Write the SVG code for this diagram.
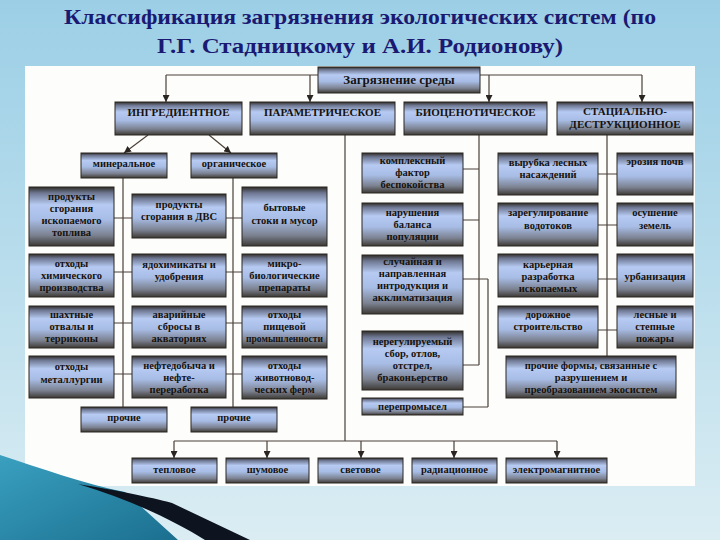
<svg xmlns="http://www.w3.org/2000/svg" width="720" height="540" viewBox="0 0 720 540">
<defs>
<linearGradient id="bg" x1="0" y1="0" x2="0" y2="1">
<stop offset="0" stop-color="#9ccfe6"/>
<stop offset="0.5" stop-color="#b9ddec"/>
<stop offset="1" stop-color="#dbedf3"/>
</linearGradient>
<linearGradient id="box" x1="0" y1="0" x2="0" y2="1">
<stop offset="0" stop-color="#2f2b27"/>
<stop offset="0.1" stop-color="#6d7690"/>
<stop offset="0.3" stop-color="#b6caf2"/>
<stop offset="0.55" stop-color="#a8bde6"/>
<stop offset="0.82" stop-color="#7b8190"/>
<stop offset="1" stop-color="#3d3934"/>
</linearGradient>
<linearGradient id="teal" x1="0" y1="0" x2="1" y2="1">
<stop offset="0" stop-color="#3aa0c0"/>
<stop offset="1" stop-color="#1b6f8f"/>
</linearGradient>
<marker id="ah" viewBox="0 0 8 8" refX="8" refY="4" markerWidth="7" markerHeight="7" markerUnits="userSpaceOnUse" orient="auto">
<path d="M0,0 L8,4 L0,8 z" fill="#2a2520"/>
</marker>
</defs>
<style>
.b{fill:url(#box);stroke:#2b2620;stroke-width:1}
.t{font-family:"Liberation Serif","DejaVu Serif",serif;font-weight:bold;font-size:10.5px;fill:#15120f;text-anchor:middle}
.h{font-size:11px}
.sm{font-size:9.5px}
.ln{fill:none;stroke:#4a4038;stroke-width:1.2}
.ar{marker-end:url(#ah)}
.title{font-family:"Liberation Serif","DejaVu Serif",serif;font-weight:bold;font-size:21px;fill:#1a1a72;text-anchor:middle}
</style>
<rect x="0" y="0" width="720" height="540" fill="url(#bg)"/>
<text class="title" x="360" y="24" textLength="592" lengthAdjust="spacingAndGlyphs">Классификация загрязнения экологических систем (по</text>
<text class="title" x="360" y="53" textLength="406" lengthAdjust="spacingAndGlyphs">Г.Г. Стадницкому и А.И. Родионову)</text>
<rect x="25" y="66" width="670" height="420" fill="#fdfdfb"/>
<path d="M0,455 C40,468 85,484 125,492 L178,540 L0,540 Z" fill="url(#teal)"/>
<path d="M78,484 C115,490 150,497 172,503 L250,540 L205,540 C170,518 125,498 78,484 Z" fill="#0d1420"/>

<g id="connectors">
<path class="ln" d="M166,75 H642"/>
<path class="ln ar" d="M166,75 V102"/>
<path class="ln ar" d="M310,75 V102"/>
<path class="ln ar" d="M489,75 V102"/>
<path class="ln ar" d="M642,75 V102"/>
<path class="ln ar" d="M148,135 L124,153"/>
<path class="ln ar" d="M209,135 L231,153"/>
<path class="ln" d="M123,178 V407"/>
<path class="ln" d="M233,178 V407"/>
<path class="ln" d="M114,218 H132 M114,272 H132 M114,323 H132 M114,374 H132"/>
<path class="ln" d="M226,218 H242 M226,272 H242 M226,323 H242 M226,374 H242"/>
<path class="ln" d="M345,135 V441 M174,441 H557"/>
<path class="ln ar" d="M174,441 V458"/>
<path class="ln ar" d="M267,441 V458"/>
<path class="ln ar" d="M361,441 V458"/>
<path class="ln ar" d="M454,441 V458"/>
<path class="ln ar" d="M557,441 V458"/>
<path class="ln" d="M479,135 V365 M463,169 H479 M463,220 H479 M463,279 H488 M463,365 H479 M488,279 V407 M463,407 H488"/>
<path class="ln" d="M607,135 V356 M598,174 H617 M598,225 H617 M598,279 H617 M598,330 H617"/>
</g>

<g id="n-root"><rect class="b" x="318" y="67" width="162" height="26"/><text class="t" x="399" y="84" style="font-size:13px">Загрязнение среды</text></g>

<g id="n-ingr"><rect class="b" x="115" y="102" width="127" height="33"/><text class="t h" x="178.5" y="116">ИНГРЕДИЕНТНОЕ</text></g>
<g id="n-param"><rect class="b" x="250" y="102" width="145" height="33"/><text class="t h" x="322.5" y="116">ПАРАМЕТРИЧЕСКОЕ</text></g>
<g id="n-bio"><rect class="b" x="404" y="102" width="143" height="33"/><text class="t h" x="475.5" y="116">БИОЦЕНОТИЧЕСКОЕ</text></g>
<g id="n-stac"><rect class="b" x="557" y="102" width="136" height="33"/><text class="t h" x="625" y="115">СТАЦИАЛЬНО-<tspan x="625" y="128">ДЕСТРУКЦИОННОЕ</tspan></text></g>

<g id="n-min"><rect class="b" x="81" y="153" width="86" height="25"/><text class="t" x="124" y="167">минеральное</text></g>
<g id="n-org"><rect class="b" x="191" y="153" width="86" height="25"/><text class="t" x="234" y="167">органическое</text></g>

<g id="n-l1"><rect class="b" x="29" y="187" width="85" height="59"/><text class="t" x="71.5" y="200">продукты<tspan x="71.5" y="212">сгорания</tspan><tspan x="71.5" y="224">ископаемого</tspan><tspan x="71.5" y="236">топлива</tspan></text></g>
<g id="n-l2"><rect class="b" x="29" y="254" width="85" height="43"/><text class="t" x="71.5" y="267">отходы<tspan x="71.5" y="279">химического</tspan><tspan x="71.5" y="291">производства</tspan></text></g>
<g id="n-l3"><rect class="b" x="29" y="306" width="85" height="42"/><text class="t" x="71.5" y="318">шахтные<tspan x="71.5" y="330">отвалы и</tspan><tspan x="71.5" y="342">терриконы</tspan></text></g>
<g id="n-l4"><rect class="b" x="29" y="356" width="85" height="42"/><text class="t" x="71.5" y="370">отходы<tspan x="71.5" y="383">металлургии</tspan></text></g>

<g id="n-m1"><rect class="b" x="132" y="194" width="94" height="44"/><text class="t" x="179" y="208">продукты<tspan x="179" y="220">сгорания в ДВС</tspan></text></g>
<g id="n-m2"><rect class="b" x="132" y="254" width="94" height="43"/><text class="t" x="179" y="268">ядохимикаты и<tspan x="179" y="280">удобрения</tspan></text></g>
<g id="n-m3"><rect class="b" x="132" y="306" width="94" height="42"/><text class="t" x="179" y="318">аварийные<tspan x="179" y="330">сбросы в</tspan><tspan x="179" y="342">акваториях</tspan></text></g>
<g id="n-m4"><rect class="b" x="132" y="356" width="94" height="42"/><text class="t" x="179" y="369">нефтедобыча и<tspan x="179" y="381">нефте-</tspan><tspan x="179" y="393">переработка</tspan></text></g>

<g id="n-r1"><rect class="b" x="242" y="187" width="85" height="59"/><text class="t" x="284.5" y="211">бытовые<tspan x="284.5" y="224">стоки и мусор</tspan></text></g>
<g id="n-r2"><rect class="b" x="242" y="254" width="85" height="43"/><text class="t" x="284.5" y="267">микро-<tspan x="284.5" y="279">биологические</tspan><tspan x="284.5" y="291">препараты</tspan></text></g>
<g id="n-r3"><rect class="b" x="242" y="306" width="85" height="42"/><text class="t" x="284.5" y="318">отходы<tspan x="284.5" y="330">пищевой</tspan><tspan class="sm" x="284.5" y="342">промышленности</tspan></text></g>
<g id="n-r4"><rect class="b" x="242" y="356" width="85" height="43"/><text class="t" x="284.5" y="369">отходы<tspan x="284.5" y="381">животновод-</tspan><tspan x="284.5" y="393">ческих ферм</tspan></text></g>

<g id="n-pr1"><rect class="b" x="81" y="407" width="86" height="25"/><text class="t" x="124" y="421">прочие</text></g>
<g id="n-pr2"><rect class="b" x="191" y="407" width="86" height="25"/><text class="t" x="234" y="421">прочие</text></g>

<g id="n-b1"><rect class="b" x="362" y="153" width="101" height="40"/><text class="t" x="412.5" y="164">комплексный<tspan x="412.5" y="176">фактор</tspan><tspan x="412.5" y="188">беспокойства</tspan></text></g>
<g id="n-b2"><rect class="b" x="362" y="203" width="101" height="43"/><text class="t" x="412.5" y="216">нарушения<tspan x="412.5" y="228">баланса</tspan><tspan x="412.5" y="240">популяции</tspan></text></g>
<g id="n-b3"><rect class="b" x="362" y="255" width="101" height="59"/><text class="t" x="412.5" y="265">случайная и<tspan x="412.5" y="277">направленная</tspan><tspan x="412.5" y="289">интродукция и</tspan><tspan x="412.5" y="301">акклиматизация</tspan></text></g>
<g id="n-b4"><rect class="b" x="362" y="331" width="101" height="59"/><text class="t" x="412.5" y="345">нерегулируемый<tspan x="412.5" y="357">сбор, отлов,</tspan><tspan x="412.5" y="369">отстрел,</tspan><tspan x="412.5" y="381">браконьерство</tspan></text></g>
<g id="n-b5"><rect class="b" x="362" y="398" width="101" height="17"/><text class="t" x="412.5" y="410">перепромысел</text></g>

<g id="n-s1"><rect class="b" x="498" y="153" width="100" height="42"/><text class="t" x="548" y="166">вырубка лесных<tspan x="548" y="178">насаждений</tspan></text></g>
<g id="n-s2"><rect class="b" x="617" y="153" width="76" height="42"/><text class="t" x="655" y="165">эрозия почв</text></g>
<g id="n-s3"><rect class="b" x="498" y="203" width="100" height="43"/><text class="t" x="548" y="216">зарегулирование<tspan x="548" y="229">водотоков</tspan></text></g>
<g id="n-s4"><rect class="b" x="617" y="203" width="76" height="43"/><text class="t" x="655" y="216">осушение<tspan x="655" y="229">земель</tspan></text></g>
<g id="n-s5"><rect class="b" x="498" y="254" width="100" height="43"/><text class="t" x="548" y="268">карьерная<tspan x="548" y="280">разработка</tspan><tspan x="548" y="292">ископаемых</tspan></text></g>
<g id="n-s6"><rect class="b" x="617" y="254" width="76" height="43"/><text class="t" x="655" y="280">урбанизация</text></g>
<g id="n-s7"><rect class="b" x="498" y="306" width="100" height="42"/><text class="t" x="548" y="318">дорожное<tspan x="548" y="330">строительство</tspan></text></g>
<g id="n-s8"><rect class="b" x="617" y="306" width="76" height="42"/><text class="t" x="655" y="318">лесные и<tspan x="655" y="330">степные</tspan><tspan x="655" y="342">пожары</tspan></text></g>
<g id="n-s9"><rect class="b" x="506" y="356" width="170" height="42"/><text class="t" x="591" y="369">прочие формы, связанные с<tspan x="591" y="381">разрушением и</tspan><tspan x="591" y="393">преобразованием экосистем</tspan></text></g>

<g id="n-p1"><rect class="b" x="132" y="458" width="85" height="25"/><text class="t" x="174.5" y="473">тепловое</text></g>
<g id="n-p2"><rect class="b" x="226" y="458" width="83" height="25"/><text class="t" x="267.5" y="473">шумовое</text></g>
<g id="n-p3"><rect class="b" x="318" y="458" width="85" height="25"/><text class="t" x="360.5" y="473">световое</text></g>
<g id="n-p4"><rect class="b" x="412" y="458" width="85" height="25"/><text class="t" x="454.5" y="473">радиационное</text></g>
<g id="n-p5"><rect class="b" x="506" y="458" width="101" height="25"/><text class="t" x="556.5" y="473">электромагнитное</text></g>
</svg>
